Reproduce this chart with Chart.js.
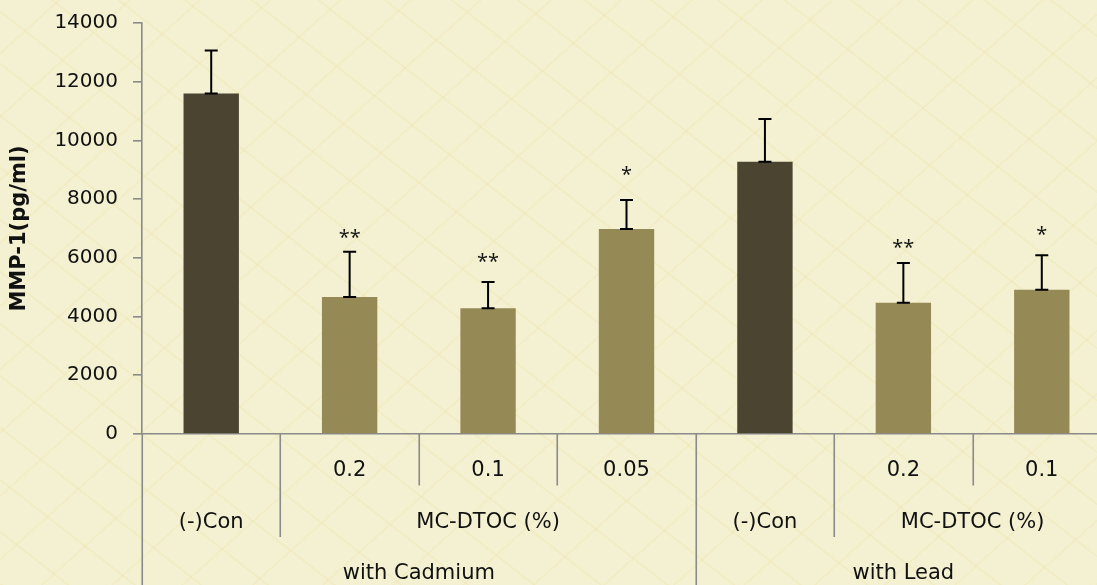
<!DOCTYPE html>
<html>
<head>
<meta charset="utf-8">
<script src="https://cdn.jsdelivr.net/npm/chart.js@4"></script>
<style>
  html, body { margin: 0; padding: 0; overflow: hidden; }
  body { width: 1097px; height: 585px; }
  #wrap {
    width: 1097px; height: 585px; overflow: hidden; position: relative;
    background:
      repeating-linear-gradient(38deg, rgba(232,222,140,0.20) 0 2px, transparent 2px 41px),
      repeating-linear-gradient(-42deg, rgba(232,222,140,0.16) 0 2px, transparent 2px 47px),
      #f4f0d2;
  }
  canvas { display: block; }
</style>
</head>
<body>
<div id="wrap"><canvas id="c" width="1112" height="585"></canvas></div>
<script>
// ---- data ----
const categories = ['Cd (-)Con', 'Cd 0.2', 'Cd 0.1', 'Cd 0.05', 'Pb (-)Con', 'Pb 0.2', 'Pb 0.1'];
const meanValues = [11600, 4670, 4280, 6980, 9275, 4475, 4915];
const sdValues   = [1460, 1540, 900, 990, 1455, 1350, 1170];
const starText   = ['', '**', '**', '*', '', '**', '*'];
const starLevel  = [0, 6690, 5870, 8830, 0, 6350, 6790];
const level1Labels = ['', '0.2', '0.1', '0.05', '', '0.2', '0.1'];
const level2Labels = ['(-)Con', 'MC-DTOC (%)', '(-)Con', 'MC-DTOC (%)'];
const level2Spans  = [1, 3, 1, 2];
const level3Labels = ['with Cadmium', 'with Lead'];
const level3Spans  = [4, 3];
const yTicks = [0, 2000, 4000, 6000, 8000, 10000, 12000, 14000];
const yTitle = 'MMP-1(pg/ml)';

const darkColor = '#4a4430';
const lightColor = '#958a55';
const axisColor = '#8a8a8a';
const FONT = "'DejaVu Sans', 'Open Sans', sans-serif";
const STARFONT = "'Open Sans', sans-serif";

const barColors = categories.map((c, i) => (level1Labels[i] === '' ? darkColor : lightColor));

const errorBarPlugin = {
  id: 'errorBars',
  afterDatasetsDraw(chart) {
    const ctx = chart.ctx;
    const y = chart.scales.y;
    const meta = chart.getDatasetMeta(0);
    ctx.save();
    ctx.strokeStyle = '#000';
    ctx.lineWidth = 2;
    meta.data.forEach((bar, i) => {
      const x = bar.x;
      const yb = y.getPixelForValue(meanValues[i]);
      const yt = y.getPixelForValue(meanValues[i] + sdValues[i]);
      ctx.beginPath();
      ctx.moveTo(x, yb); ctx.lineTo(x, yt);
      ctx.moveTo(x - 6.5, yt); ctx.lineTo(x + 6.5, yt);
      ctx.moveTo(x - 6.5, yb); ctx.lineTo(x + 6.5, yb);
      ctx.stroke();
      if (starText[i]) {
        ctx.fillStyle = '#111';
        ctx.font = '20px ' + STARFONT;
        ctx.textAlign = 'center';
        ctx.textBaseline = 'alphabetic';
        ctx.fillText(starText[i], x, y.getPixelForValue(starLevel[i]) + 6);
      }
    });
    ctx.restore();
  }
};

const hierarchyPlugin = {
  id: 'hierarchy',
  afterDraw(chart) {
    const ctx = chart.ctx;
    const xs = chart.scales.x;
    const area = chart.chartArea;
    const n = categories.length;
    const step = xs.getPixelForValue(1) - xs.getPixelForValue(0);
    const bound = k => xs.getPixelForValue(k) - step / 2;
    const top = area.bottom;
    const rowH = 51.5;
    const row1End = top + rowH, row2End = top + 2 * rowH, bottom = chart.height;

    const l2Bounds = new Set([0]); let acc = 0;
    level2Spans.forEach(s => { acc += s; l2Bounds.add(acc); });
    const l3Bounds = new Set([0]); acc = 0;
    level3Spans.forEach(s => { acc += s; l3Bounds.add(acc); });

    ctx.save();
    ctx.strokeStyle = axisColor;
    ctx.lineWidth = 1.6;
    for (let k = 0; k <= n; k++) {
      const bx = Math.round(bound(k)) + 0.25;
      let end;
      if (l3Bounds.has(k)) end = bottom;
      else if (l2Bounds.has(k)) end = row2End;
      else end = row1End;
      ctx.beginPath();
      ctx.moveTo(bx, top); ctx.lineTo(bx, end);
      ctx.stroke();
    }
    ctx.fillStyle = '#111';
    ctx.font = '21px ' + FONT;
    ctx.textAlign = 'center';
    ctx.textBaseline = 'middle';
    level1Labels.forEach((t, i) => {
      if (t) ctx.fillText(t, xs.getPixelForValue(i), top + 37);
    });
    acc = 0;
    level2Labels.forEach((t, j) => {
      const cx = (bound(acc) + bound(acc + level2Spans[j])) / 2;
      ctx.fillText(t, cx, row1End + 37);
      acc += level2Spans[j];
    });
    acc = 0;
    level3Labels.forEach((t, j) => {
      const cx = (bound(acc) + bound(acc + level3Spans[j])) / 2;
      ctx.fillText(t, cx, row2End + 36.5);
      acc += level3Spans[j];
    });
    ctx.restore();
  }
};

new Chart(document.getElementById('c'), {
  type: 'bar',
  data: {
    labels: categories,
    datasets: [{
      data: meanValues,
      backgroundColor: barColors,
      borderWidth: 0,
      categoryPercentage: 1.0,
      barPercentage: 0.4
    }]
  },
  options: {
    responsive: false,
    animation: false,
    devicePixelRatio: 1,
    layout: { padding: { top: 0, right: 1, left: 0, bottom: 0 } },
    plugins: { legend: { display: false }, tooltip: { enabled: false } },
    scales: {
      x: {
        type: 'category',
        offset: true,
        grid: { display: false },
        ticks: { display: false },
        border: { display: true, color: axisColor, width: 1.6 },
        afterFit(scale) { scale.height = 151; }
      },
      y: {
        min: 0, max: 14000,
        afterBuildTicks(scale) { scale.ticks = yTicks.map(v => ({ value: v })); },
        ticks: {
          font: { family: FONT, size: 20 },
          color: '#111',
          padding: 15,
          callback: v => String(v)
        },
        grid: { display: true, drawOnChartArea: false, tickLength: 9, color: axisColor, lineWidth: 1.6 },
        border: { display: true, color: axisColor, width: 1.6 },
        title: {
          display: true, text: yTitle,
          font: { family: FONT, size: 21, weight: 'bold' },
          color: '#111',
          padding: { top: 7, bottom: 0 }
        },
        afterFit(scale) { scale.width = 142; scale.paddingTop = 23; scale.paddingBottom = 0; }
      }
    }
  },
  plugins: [errorBarPlugin, hierarchyPlugin]
});
</script>
</body>
</html>
